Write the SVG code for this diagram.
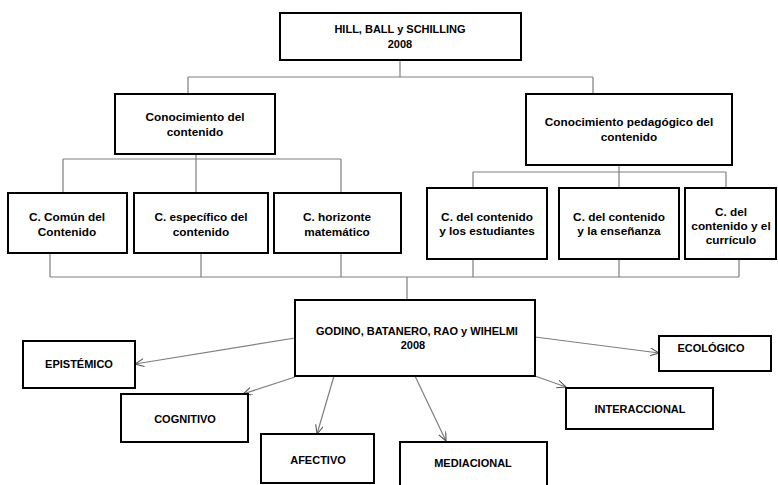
<svg xmlns="http://www.w3.org/2000/svg" width="778" height="485" viewBox="0 0 778 485">
<defs>
<style>
.box{fill:#fff;stroke:#000;stroke-width:2}
.ln{fill:none;stroke:#7f7f7f;stroke-width:1.2}
.t{font-family:"Liberation Sans",Arial,sans-serif;font-weight:bold;font-size:11px;fill:#000;text-anchor:middle}
.m{font-size:11.8px}
</style>
<marker id="ah" markerUnits="userSpaceOnUse" markerWidth="12" markerHeight="12" refX="9" refY="4" orient="auto">
<path d="M0,0 L9,4 L0,8" fill="none" stroke="#555" stroke-width="1.1"/>
</marker>
</defs>
<rect width="778" height="485" fill="#fff"/>
<g id="connectors">
<path class="ln" d="M400,60 V77 M188,77 H593 M188,77 V94 M593,77 V94"/>
<path class="ln" d="M196,154 V159 M63,159 H341 M63,159 V193 M196,159 V193 M341,159 V193"/>
<path class="ln" d="M619,165 V172 M473,172 H726 M473,172 V188 M619,172 V188 M726,172 V188"/>
<path class="ln" d="M50,253 V277 M201,253 V277 M341,253 V277 M473,259 V277 M619,259 V277 M739,259 V277 M50,277 H739 M407,277 V300"/>
<path class="ln" marker-end="url(#ah)" d="M295,338 L135,364"/>
<path class="ln" marker-end="url(#ah)" d="M295,377 L243,394"/>
<path class="ln" marker-end="url(#ah)" d="M334,376 L317,434"/>
<path class="ln" marker-end="url(#ah)" d="M415,376 L446,441"/>
<path class="ln" marker-end="url(#ah)" d="M535,376 L566,387"/>
<path class="ln" marker-end="url(#ah)" d="M535,337 L659,353"/>
</g>
<g id="hill">
<rect class="box" x="280" y="13" width="241" height="47"/>
<text class="t" x="400" y="33">HILL, BALL y SCHILLING</text>
<text class="t" x="400" y="48">2008</text>
</g>
<g id="conocimiento-contenido">
<rect class="box" x="115" y="94" width="160" height="60"/>
<text class="t m" x="195" y="121">Conocimiento del</text>
<text class="t m" x="195" y="136">contenido</text>
</g>
<g id="conocimiento-pedagogico">
<rect class="box" x="526" y="94" width="206" height="71"/>
<text class="t m" x="629" y="126">Conocimiento pedagógico del</text>
<text class="t m" x="629" y="141">contenido</text>
</g>
<g id="comun">
<rect class="box" x="8" y="193" width="119" height="60"/>
<text class="t m" x="67" y="221">C. Común del</text>
<text class="t m" x="67" y="236">Contenido</text>
</g>
<g id="especifico">
<rect class="box" x="134" y="193" width="134" height="60"/>
<text class="t m" x="201" y="221">C. específico del</text>
<text class="t m" x="201" y="236">contenido</text>
</g>
<g id="horizonte">
<rect class="box" x="274" y="193" width="127" height="60"/>
<text class="t m" x="337" y="221">C. horizonte</text>
<text class="t m" x="337" y="236">matemático</text>
</g>
<g id="estudiantes">
<rect class="box" x="427" y="188" width="120" height="71"/>
<text class="t m" x="487" y="221">C. del contenido</text>
<text class="t m" x="487" y="235">y los estudiantes</text>
</g>
<g id="ensenanza">
<rect class="box" x="559" y="188" width="120" height="71"/>
<text class="t m" x="619" y="221">C. del contenido</text>
<text class="t m" x="619" y="235">y la enseñanza</text>
</g>
<g id="curriculo">
<rect class="box" x="685" y="188" width="91" height="71"/>
<text class="t m" x="731" y="216">C. del</text>
<text class="t m" x="731" y="230">contenido y el</text>
<text class="t m" x="731" y="244">currículo</text>
</g>
<g id="godino">
<rect class="box" x="295" y="300" width="240" height="76"/>
<text class="t" x="417" y="335">GODINO, BATANERO, RAO y WIHELMI</text>
<text class="t" x="413" y="349">2008</text>
</g>
<g id="epistemico">
<rect class="box" x="23" y="341" width="112" height="47"/>
<text class="t" x="79" y="368">EPISTÉMICO</text>
</g>
<g id="cognitivo">
<rect class="box" x="121" y="394" width="127" height="48"/>
<text class="t" x="185" y="423">COGNITIVO</text>
</g>
<g id="afectivo">
<rect class="box" x="261" y="434" width="113" height="49"/>
<text class="t" x="318" y="464">AFECTIVO</text>
</g>
<g id="mediacional">
<rect class="box" x="400" y="442" width="147" height="50"/>
<text class="t" x="473" y="467">MEDIACIONAL</text>
</g>
<g id="interaccional">
<rect class="box" x="566" y="388" width="147" height="41"/>
<text class="t" x="640" y="413">INTERACCIONAL</text>
</g>
<g id="ecologico">
<rect class="box" x="659" y="336" width="112" height="35"/>
<text class="t" x="711" y="352">ECOLÓGICO</text>
</g>
</svg>
